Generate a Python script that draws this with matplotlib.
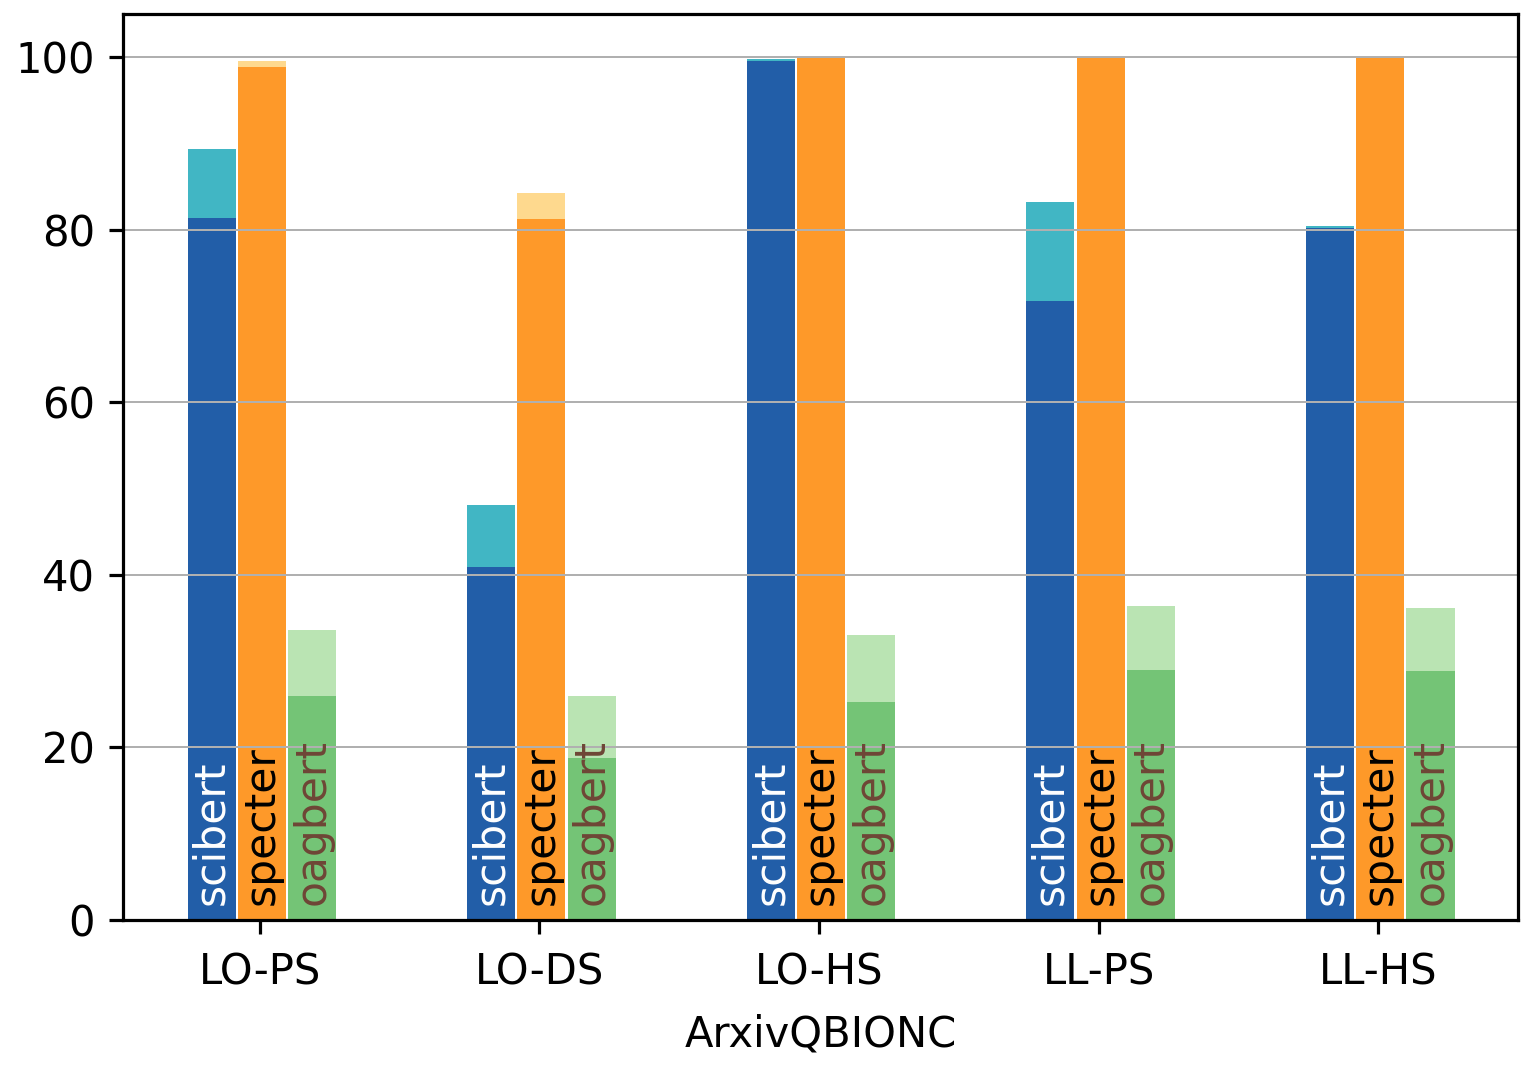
import numpy as np
import matplotlib
matplotlib.use("Agg")
import matplotlib.pyplot as plt

# --- DATA ---
groups = ["LO-PS", "LO-DS", "LO-HS", "LL-PS", "LL-HS"]
models = ["scibert", "specter", "oagbert"]

# base value (dark) and upper value (light) for each model, per group
scibert_base = [81.4, 40.9, 99.6, 71.7, 80.2]
scibert_top = [89.3, 48.1, 99.8, 83.2, 80.4]
specter_base = [98.8, 81.2, 100.0, 100.0, 100.0]
specter_top = [99.6, 84.2, 100.0, 100.0, 100.0]
oagbert_base = [25.9, 18.8, 25.3, 29.0, 28.8]
oagbert_top = [33.6, 26.0, 33.0, 36.4, 36.2]

dark_colors = ["#225ea8", "#fe9929", "#74c476"]
light_colors = ["#41b6c4", "#fed98e", "#bae4b3"]
text_colors = ["white", "black", "#6e4636"]

bases = [scibert_base, specter_base, oagbert_base]
tops = [scibert_top, specter_top, oagbert_top]

# --- PLOT ---
plt.rcParams["font.size"] = 10.4
fig = plt.figure(figsize=(1533 / 288, 1065 / 288), dpi=288)
ax = fig.add_axes([0.0802, 0.1362, 0.9100, 0.8507])

x = np.arange(len(groups))
step = 0.18
width = 0.172

for i, name in enumerate(models):
    pos = x + (i - 1) * step + 0.007
    ax.bar(pos, tops[i], width, color=light_colors[i], linewidth=0)
    ax.bar(pos, bases[i], width, color=dark_colors[i], linewidth=0)
    for p in pos:
        ax.text(p, 1.7, name, rotation=90, ha="center", va="bottom",
                color=text_colors[i], fontsize=10.6, zorder=3)

ax.set_xticks(x)
ax.set_xticklabels(groups)
ax.tick_params(axis="x", pad=4.5)
ax.set_xlabel("ArxivQBIONC", labelpad=5)
ax.set_xlim(-0.49, 4.5)
ax.set_ylim(0, 105)
ax.set_yticks([0, 20, 40, 60, 80, 100])
ax.yaxis.grid(True, color="#b0b0b0", linewidth=0.5)

fig.savefig("out.png", dpi=288)
